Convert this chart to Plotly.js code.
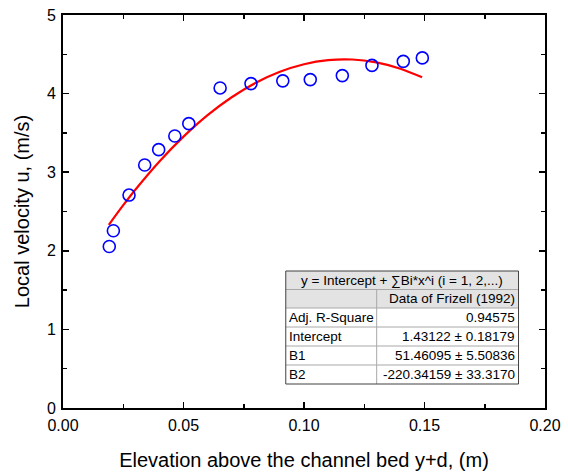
<!DOCTYPE html>
<html>
<head>
<meta charset="utf-8">
<script src="https://cdn.plot.ly/plotly-3.0.1.min.js"></script>
<style>html,body{margin:0;padding:0;background:#fff;}#chart{width:568px;height:475px;}</style>
</head>
<body>
<div id="chart"></div>
<script>
// Measured data (Frizell 1992)
const elevation = [0.0192, 0.0209, 0.0274, 0.0339, 0.0397, 0.0464, 0.0522, 0.0652, 0.0780, 0.0912, 0.1026, 0.1159, 0.1282, 0.1412, 0.1491];
const velocity  = [2.055, 2.255, 2.709, 3.092, 3.287, 3.461, 3.618, 4.072, 4.127, 4.162, 4.178, 4.229, 4.359, 4.410, 4.454];

// Fitted polynomial curve
const fitX = [0.019, 0.025, 0.03, 0.04, 0.05, 0.06, 0.07, 0.08, 0.09, 0.10, 0.11, 0.12, 0.13, 0.14, 0.149];
const fitY = [2.329, 2.580, 2.777, 3.137, 3.453, 3.726, 3.954, 4.138, 4.278, 4.374, 4.426, 4.434, 4.397, 4.317, 4.207];

// Fit statistics table
const tableTitle = "y = Intercept + \u2211Bi*x^i (i = 1, 2,...)";
const tableHeader = "Data of Frizell (1992)";
const rowLabels = ["Adj. R-Square", "Intercept", "B1", "B2"];
const rowValues = ["0.94575", "1.43122 \u00b1 0.18179", "51.46095 \u00b1 5.50836", "-220.34159 \u00b1 33.3170"];

const xTicks = [0, 0.05, 0.10, 0.15, 0.20];
const xTickText = ["0.00", "0.05", "0.10", "0.15", "0.20"];
const yTicks = [0, 1, 2, 3, 4, 5];

// plot area pixel geometry
const L = 63, R = 545.5, T = 15, B = 408;
const px = x => (x - L) / (R - L);
const py = y => (B - y) / (B - T);

const traces = [
  {x: fitX, y: fitY, type: 'scatter', mode: 'lines', line: {color: '#ff0000', width: 2.2, shape: 'spline'}, hoverinfo: 'skip'},
  {x: elevation, y: velocity, type: 'scatter', mode: 'markers',
   marker: {symbol: 'circle-open', size: 12, color: '#0000ff', line: {width: 1.6, color: '#0000ff'}}}
];

// table geometry (pixels)
const tL = 286, tR = 519, tC = 377;
const rowsY = [271, 289.5, 308, 327, 346, 365, 384];
const shapes = [];
const annotations = [];
shapes.push({type: 'rect', xref: 'paper', yref: 'paper', x0: px(tL), x1: px(tR), y0: py(rowsY[2]), y1: py(rowsY[0]), fillcolor: '#e3e3e3', line: {width: 0}, layer: 'above'});
shapes.push({type: 'rect', xref: 'paper', yref: 'paper', x0: px(tL), x1: px(tR), y0: py(rowsY[6]), y1: py(rowsY[2]), fillcolor: '#ffffff', line: {width: 0}, layer: 'above'});
for (let i = 1; i < 6; i++) {
  shapes.push({type: 'line', xref: 'paper', yref: 'paper', x0: px(tL), x1: px(tR), y0: py(rowsY[i]), y1: py(rowsY[i]), line: {color: '#a8a8a8', width: 1}, layer: 'above'});
}
shapes.push({type: 'line', xref: 'paper', yref: 'paper', x0: px(tC), x1: px(tC), y0: py(rowsY[1]), y1: py(rowsY[6]), line: {color: '#a8a8a8', width: 1}, layer: 'above'});
shapes.push({type: 'rect', xref: 'paper', yref: 'paper', x0: px(tL), x1: px(tR), y0: py(rowsY[6]), y1: py(rowsY[0]), line: {color: '#404040', width: 1}, layer: 'above'});

const tf = {family: 'Liberation Sans, Arial, sans-serif', size: 13.5, color: '#000'};
annotations.push({xref: 'paper', yref: 'paper', x: px((tL + tR) / 2), y: py((rowsY[0] + rowsY[1]) / 2), text: tableTitle, showarrow: false, font: tf, xanchor: 'center', yanchor: 'middle'});
annotations.push({xref: 'paper', yref: 'paper', x: px(tR - 2), y: py((rowsY[1] + rowsY[2]) / 2), text: tableHeader, showarrow: false, font: tf, xanchor: 'right', yanchor: 'middle'});
for (let i = 0; i < rowLabels.length; i++) {
  const yc = py((rowsY[i + 2] + rowsY[i + 3]) / 2);
  annotations.push({xref: 'paper', yref: 'paper', x: px(tL + 1), y: yc, text: rowLabels[i], showarrow: false, font: tf, xanchor: 'left', yanchor: 'middle'});
  annotations.push({xref: 'paper', yref: 'paper', x: px(tR - 2), y: yc, text: rowValues[i], showarrow: false, font: tf, xanchor: 'right', yanchor: 'middle'});
}

const axisFont = {family: 'Liberation Sans, Arial, sans-serif', size: 16, color: '#000'};
const titleFont = {family: 'Liberation Sans, Arial, sans-serif', size: 20, color: '#000'};
const layout = {
  width: 568, height: 475,
  margin: {l: L, r: 568 - R, t: T, b: 475 - B},
  paper_bgcolor: '#fff', plot_bgcolor: '#fff',
  showlegend: false,
  xaxis: {
    range: [0, 0.2], tickvals: xTicks, ticktext: xTickText,
    ticks: 'inside', ticklen: 6, tickwidth: 1.5, tickcolor: '#000',
    minor: {dtick: 0.025, ticks: 'inside', ticklen: 4, tickwidth: 1.5, tickcolor: '#000', showgrid: false},
    showline: true, linecolor: '#000', linewidth: 1.8, mirror: 'ticks',
    showgrid: false, zeroline: false, tickfont: axisFont, ticklabelstandoff: 2,
    title: {text: 'Elevation above the channel bed y+d, (m)', font: titleFont, standoff: 20}
  },
  yaxis: {
    range: [0, 5], tickvals: yTicks,
    ticks: 'inside', ticklen: 6, tickwidth: 1.5, tickcolor: '#000',
    minor: {dtick: 0.5, ticks: 'inside', ticklen: 4, tickwidth: 1.5, tickcolor: '#000', showgrid: false},
    showline: true, linecolor: '#000', linewidth: 1.8, mirror: 'ticks',
    showgrid: false, zeroline: false, tickfont: axisFont, ticklabelstandoff: 2,
    title: {text: 'Local velocity u, (m/s)', font: titleFont, standoff: 12}
  },
  shapes: shapes,
  annotations: annotations
};

Plotly.newPlot('chart', traces, layout, {displayModeBar: false, staticPlot: true});
</script>
</body>
</html>
